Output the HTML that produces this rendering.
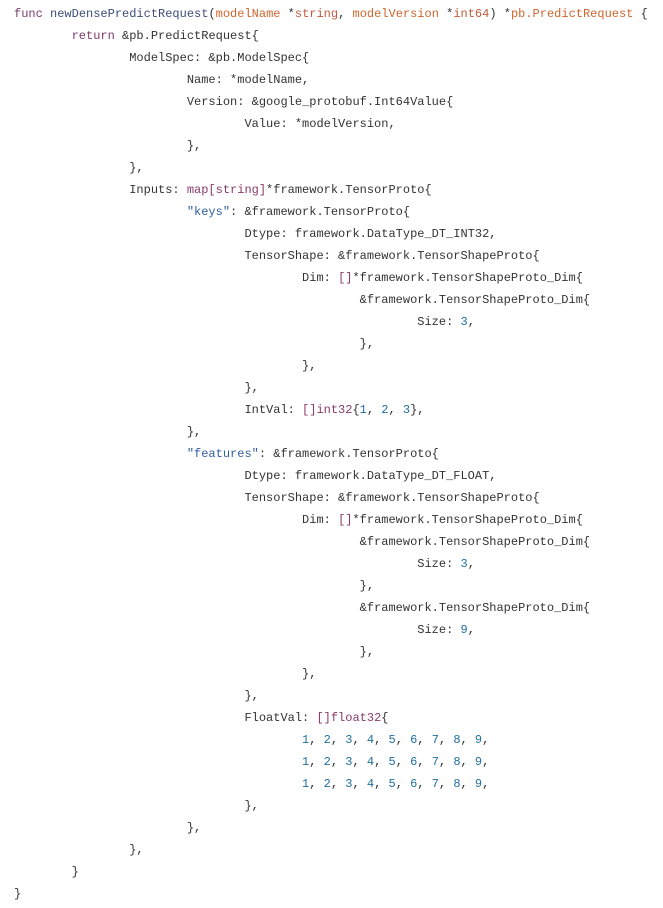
<!DOCTYPE html>
<html><head><meta charset="utf-8"><style>
html,body{margin:0;padding:0;background:#fff;width:663px;height:908px;overflow:hidden}
pre{margin:0;position:absolute;left:14px;top:3px;font-family:"Liberation Mono",monospace;font-size:12px;line-height:22px;color:#333;tab-size:8;-moz-tab-size:8}
.k{color:#7b3b6b}.f{color:#3c4e7a}.p{color:#d0652c}.t{color:#c25a3a}.s{color:#2f5ea4}.n{color:#1f6fa0}.m{color:#8a3a6a}
</style></head><body>
<pre><span class="k">func</span> <span class="f">newDensePredictRequest</span>(<span class="p">modelName</span> *<span class="t">string</span>, <span class="p">modelVersion</span> *<span class="t">int64</span>) *<span class="p">pb.PredictRequest</span> {
	<span class="k">return</span> &amp;pb.PredictRequest{
		ModelSpec: &amp;pb.ModelSpec{
			Name: *modelName,
			Version: &amp;google_protobuf.Int64Value{
				Value: *modelVersion,
			},
		},
		Inputs: <span class="m">map[string]</span>*framework.TensorProto{
			<span class="s">"keys"</span>: &amp;framework.TensorProto{
				Dtype: framework.DataType_DT_INT32,
				TensorShape: &amp;framework.TensorShapeProto{
					Dim: <span class="m">[]</span>*framework.TensorShapeProto_Dim{
						&amp;framework.TensorShapeProto_Dim{
							Size: <span class="n">3</span>,
						},
					},
				},
				IntVal: <span class="m">[]int32</span>{<span class="n">1</span>, <span class="n">2</span>, <span class="n">3</span>},
			},
			<span class="s">"features"</span>: &amp;framework.TensorProto{
				Dtype: framework.DataType_DT_FLOAT,
				TensorShape: &amp;framework.TensorShapeProto{
					Dim: <span class="m">[]</span>*framework.TensorShapeProto_Dim{
						&amp;framework.TensorShapeProto_Dim{
							Size: <span class="n">3</span>,
						},
						&amp;framework.TensorShapeProto_Dim{
							Size: <span class="n">9</span>,
						},
					},
				},
				FloatVal: <span class="m">[]float32</span>{
					<span class="n">1</span>, <span class="n">2</span>, <span class="n">3</span>, <span class="n">4</span>, <span class="n">5</span>, <span class="n">6</span>, <span class="n">7</span>, <span class="n">8</span>, <span class="n">9</span>,
					<span class="n">1</span>, <span class="n">2</span>, <span class="n">3</span>, <span class="n">4</span>, <span class="n">5</span>, <span class="n">6</span>, <span class="n">7</span>, <span class="n">8</span>, <span class="n">9</span>,
					<span class="n">1</span>, <span class="n">2</span>, <span class="n">3</span>, <span class="n">4</span>, <span class="n">5</span>, <span class="n">6</span>, <span class="n">7</span>, <span class="n">8</span>, <span class="n">9</span>,
				},
			},
		},
	}
}</pre>
</body></html>
